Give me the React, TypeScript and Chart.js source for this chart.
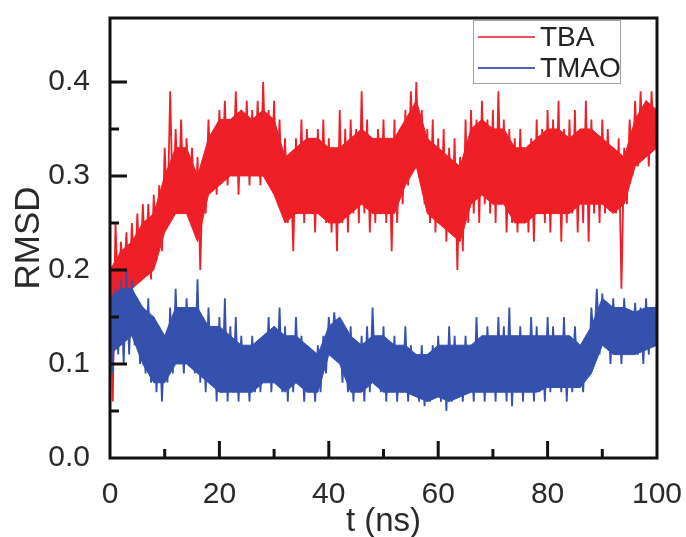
import React, { useEffect, useRef } from 'react';
import { Chart, registerables } from 'chart.js';

Chart.register(...registerables);

// RMSD traces.
// Excursions: upper value at each whole ns (0..100), lower value at each half ns (0.5..99.5)
const TBA_HIGH = [
  0.21, 0.25, 0.23, 0.24, 0.25, 0.26, 0.27, 0.27, 0.28, 0.29,
  0.33, 0.39, 0.35, 0.36, 0.34, 0.33, 0.32, 0.31, 0.36, 0.35,
  0.37, 0.38, 0.36, 0.39, 0.37, 0.38, 0.37, 0.38, 0.40, 0.37,
  0.38, 0.36, 0.34, 0.32, 0.34, 0.36, 0.35, 0.34, 0.35, 0.36,
  0.34, 0.33, 0.37, 0.35, 0.36, 0.35, 0.39, 0.36, 0.34, 0.35,
  0.36, 0.34, 0.36, 0.35, 0.37, 0.39, 0.40, 0.37, 0.35, 0.36,
  0.34, 0.35, 0.33, 0.34, 0.32, 0.36, 0.37, 0.36, 0.38, 0.36,
  0.37, 0.39, 0.36, 0.35, 0.34, 0.35, 0.33, 0.34, 0.36, 0.35,
  0.37, 0.36, 0.38, 0.35, 0.36, 0.37, 0.35, 0.38, 0.36, 0.34,
  0.36, 0.35, 0.33, 0.34, 0.33, 0.36, 0.38, 0.39, 0.38, 0.39,
  0.36,
];
const TBA_LOW = [
  0.06, 0.17, 0.18, 0.17, 0.19, 0.19, 0.20, 0.19, 0.21, 0.22,
  0.25, 0.26, 0.27, 0.26, 0.27, 0.24, 0.20, 0.26, 0.29, 0.28,
  0.30, 0.29, 0.30, 0.28, 0.30, 0.29, 0.31, 0.29, 0.30, 0.29,
  0.28, 0.26, 0.25, 0.22, 0.26, 0.25, 0.26, 0.24, 0.26, 0.25,
  0.24, 0.22, 0.25, 0.24, 0.26, 0.25, 0.26, 0.24, 0.25, 0.26,
  0.25, 0.22, 0.25, 0.27, 0.29, 0.31, 0.30, 0.27, 0.25, 0.24,
  0.25, 0.23, 0.24, 0.20, 0.22, 0.25, 0.26, 0.25, 0.27, 0.26,
  0.25, 0.27, 0.24, 0.25, 0.24, 0.26, 0.24, 0.23, 0.26, 0.25,
  0.24, 0.26, 0.23, 0.25, 0.26, 0.24, 0.25, 0.23, 0.26, 0.25,
  0.26, 0.27, 0.26, 0.18, 0.27, 0.30, 0.31, 0.32, 0.31, 0.33,
];
const TMAO_HIGH = [
  0.17, 0.18, 0.19, 0.20, 0.19, 0.17, 0.16, 0.17, 0.15, 0.14,
  0.13, 0.16, 0.18, 0.15, 0.17, 0.16, 0.19, 0.15, 0.16, 0.14,
  0.15, 0.17, 0.14, 0.15, 0.13, 0.12, 0.13, 0.12, 0.13, 0.15,
  0.14, 0.16, 0.14, 0.13, 0.15, 0.13, 0.12, 0.11, 0.12, 0.13,
  0.15, 0.155, 0.14, 0.13, 0.14, 0.12, 0.13, 0.14, 0.16, 0.13,
  0.14, 0.12, 0.13, 0.12, 0.14, 0.12, 0.11, 0.12, 0.11, 0.12,
  0.13, 0.12, 0.14, 0.13, 0.12, 0.13, 0.12, 0.15, 0.13, 0.14,
  0.13, 0.15, 0.14, 0.16, 0.13, 0.14, 0.13, 0.15, 0.14, 0.13,
  0.15, 0.14, 0.13, 0.15, 0.13, 0.14, 0.12, 0.13, 0.16, 0.18,
  0.175, 0.16, 0.17, 0.16, 0.17, 0.155, 0.165, 0.16, 0.17, 0.16,
  0.17,
];
const TMAO_LOW = [
  0.09, 0.11, 0.10, 0.11, 0.12, 0.10, 0.09, 0.08, 0.07, 0.06,
  0.08, 0.09, 0.10, 0.09, 0.10, 0.09, 0.08, 0.07, 0.09, 0.06,
  0.07, 0.06, 0.07, 0.06, 0.07, 0.06, 0.07, 0.07, 0.08, 0.07,
  0.08, 0.07, 0.06, 0.07, 0.08, 0.06, 0.07, 0.06, 0.07, 0.09,
  0.11, 0.12, 0.08, 0.07, 0.06, 0.07, 0.06, 0.07, 0.08, 0.07,
  0.06, 0.07, 0.06, 0.07, 0.06, 0.07, 0.06, 0.055, 0.06, 0.07,
  0.06, 0.05, 0.06, 0.07, 0.06, 0.07, 0.06, 0.07, 0.06, 0.07,
  0.06, 0.07, 0.06, 0.055, 0.07, 0.06, 0.07, 0.06, 0.07, 0.06,
  0.07, 0.08, 0.07, 0.06, 0.07, 0.08, 0.07, 0.09, 0.12, 0.11,
  0.12, 0.10, 0.11, 0.10, 0.11, 0.12, 0.11, 0.10, 0.11, 0.12,
];

// Dense core of each trace, every 2 ns (0..100)
const TBA_CORE_HIGH = [
  0.20, 0.22, 0.23, 0.25, 0.26, 0.30, 0.33, 0.33, 0.30, 0.34,
  0.36, 0.36, 0.37, 0.36, 0.37, 0.36, 0.32, 0.33, 0.34, 0.34,
  0.33, 0.33, 0.34, 0.35, 0.34, 0.34, 0.34, 0.36, 0.38, 0.34,
  0.33, 0.32, 0.31, 0.35, 0.36, 0.35, 0.35, 0.33, 0.33, 0.34,
  0.35, 0.35, 0.34, 0.35, 0.35, 0.34, 0.33, 0.32, 0.36, 0.38,
  0.37,
];
const TBA_CORE_LOW = [
  0.14, 0.17, 0.18, 0.19, 0.20, 0.24, 0.26, 0.26, 0.23, 0.28,
  0.29, 0.30, 0.30, 0.30, 0.30, 0.28, 0.25, 0.26, 0.26, 0.26,
  0.25, 0.25, 0.26, 0.27, 0.26, 0.26, 0.26, 0.29, 0.31, 0.26,
  0.25, 0.24, 0.23, 0.27, 0.28, 0.27, 0.27, 0.25, 0.25, 0.26,
  0.26, 0.26, 0.26, 0.27, 0.27, 0.27, 0.26, 0.27, 0.31, 0.32,
  0.33,
];
const TMAO_CORE_HIGH = [
  0.17, 0.18, 0.18, 0.16, 0.15, 0.13, 0.16, 0.16, 0.16, 0.14,
  0.14, 0.13, 0.12, 0.12, 0.13, 0.14, 0.13, 0.13, 0.12, 0.11,
  0.14, 0.15, 0.13, 0.12, 0.13, 0.13, 0.12, 0.12, 0.11, 0.11,
  0.12, 0.12, 0.12, 0.12, 0.13, 0.13, 0.13, 0.13, 0.13, 0.13,
  0.13, 0.13, 0.13, 0.12, 0.14, 0.17, 0.16, 0.16, 0.155, 0.16,
  0.16,
];
const TMAO_CORE_LOW = [
  0.11, 0.12, 0.13, 0.10, 0.08, 0.08, 0.10, 0.10, 0.09, 0.08,
  0.07, 0.07, 0.07, 0.07, 0.08, 0.08, 0.07, 0.08, 0.07, 0.07,
  0.11, 0.10, 0.07, 0.07, 0.08, 0.07, 0.07, 0.07, 0.065, 0.06,
  0.065, 0.06, 0.065, 0.07, 0.07, 0.07, 0.07, 0.07, 0.07, 0.07,
  0.075, 0.075, 0.075, 0.075, 0.09, 0.12, 0.11, 0.11, 0.11, 0.115,
  0.12,
];

const SERIES_NAMES = ['TBA', 'TMAO'];
const X_TICK_LABELS = ['0', '20', '40', '60', '80', '100'];
const Y_TICK_LABELS = ['0.0', '0.1', '0.2', '0.3', '0.4'];

const FONT = "'Liberation Sans', Arial, sans-serif";
const RED = '#ee1f26';
const BLUE = '#3550ad';

function buildTrace(high: number[], low: number[]) {
  const pts: { x: number; y: number }[] = [];
  for (let i = 0; i < high.length; i++) {
    pts.push({ x: i, y: high[i] });
    if (i < low.length) pts.push({ x: i + 0.5, y: low[i] });
  }
  return pts;
}

function buildCore(values: number[]) {
  return values.map((v, i) => ({ x: i * 2, y: v }));
}

const frameAndTicks = {
  id: 'frameAndTicks',
  afterDraw(chart: any) {
    const { ctx, chartArea } = chart;
    const xs = chart.scales.x;
    const ys = chart.scales.y;
    const { left, right, top, bottom } = chartArea;
    ctx.save();
    ctx.strokeStyle = '#111';
    ctx.lineWidth = 3;
    ctx.beginPath();
    xs.ticks.forEach((t: any) => {
      const v = t.value;
      if (v <= 0 || v >= 100) return;
      const major = Math.abs(v / 20 - Math.round(v / 20)) < 1e-6;
      const px = xs.getPixelForValue(v);
      ctx.moveTo(px, bottom);
      ctx.lineTo(px, bottom - (major ? 17 : 9));
    });
    ys.ticks.forEach((t: any) => {
      const v = t.value;
      if (Math.abs(v / 0.05 - Math.round(v / 0.05)) > 1e-6) return;
      if (v <= 0) return;
      const major = Math.abs(v / 0.1 - Math.round(v / 0.1)) < 1e-6;
      const py = ys.getPixelForValue(v);
      ctx.moveTo(left, py);
      ctx.lineTo(left + (major ? 17 : 9), py);
    });
    ctx.stroke();
    ctx.strokeRect(left, top, right - left, bottom - top);

    // legend box
    const bx = 473, by = 20, bw = 147, bh = 63;
    ctx.fillStyle = '#ffffff';
    ctx.fillRect(bx, by, bw, bh);
    ctx.lineWidth = 1;
    ctx.strokeStyle = '#a0a0a0';
    ctx.strokeRect(bx + 0.5, by + 0.5, bw, bh);
    const rows = [
      { y: 37, color: '#e5505a', label: SERIES_NAMES[0] },
      { y: 68, color: '#5560b5', label: SERIES_NAMES[1] },
    ];
    ctx.font = `28px ${FONT}`;
    ctx.textBaseline = 'middle';
    ctx.textAlign = 'left';
    rows.forEach((r) => {
      ctx.strokeStyle = r.color;
      ctx.lineWidth = 2;
      ctx.beginPath();
      ctx.moveTo(478, r.y);
      ctx.lineTo(535, r.y);
      ctx.stroke();
      ctx.fillStyle = '#222';
      ctx.fillText(r.label, 540, r.y + 1);
    });
    ctx.restore();
  },
};

export default function App() {
  const ref = useRef<HTMLCanvasElement | null>(null);
  useEffect(() => {
    document.body.style.margin = '0';
    if (!ref.current) return;
    const common = { pointRadius: 0, tension: 0 };
    const chart = new Chart(ref.current, {
      type: 'line',
      data: {
        datasets: [
          {
            ...common,
            label: SERIES_NAMES[0] + ' core',
            data: buildCore(TBA_CORE_HIGH),
            borderColor: RED,
            borderWidth: 1,
            backgroundColor: RED,
            fill: '+1',
            order: 6,
          },
          {
            ...common,
            label: SERIES_NAMES[0] + ' core low',
            data: buildCore(TBA_CORE_LOW),
            borderColor: RED,
            borderWidth: 1,
            fill: false,
            order: 5,
          },
          {
            ...common,
            label: SERIES_NAMES[0],
            data: buildTrace(TBA_HIGH, TBA_LOW),
            borderColor: RED,
            borderWidth: 1.8,
            fill: false,
            order: 4,
          },
          {
            ...common,
            label: SERIES_NAMES[1] + ' core',
            data: buildCore(TMAO_CORE_HIGH),
            borderColor: BLUE,
            borderWidth: 1,
            backgroundColor: BLUE,
            fill: '+1',
            order: 3,
          },
          {
            ...common,
            label: SERIES_NAMES[1] + ' core low',
            data: buildCore(TMAO_CORE_LOW),
            borderColor: BLUE,
            borderWidth: 1,
            fill: false,
            order: 2,
          },
          {
            ...common,
            label: SERIES_NAMES[1],
            data: buildTrace(TMAO_HIGH, TMAO_LOW),
            borderColor: BLUE,
            borderWidth: 1.8,
            fill: false,
            order: 1,
          },
        ],
      },
      options: {
        animation: false,
        responsive: false,
        devicePixelRatio: 1,
        layout: { padding: { left: 0, right: 29, top: 18, bottom: 0 } },
        plugins: {
          legend: { display: false },
          tooltip: { enabled: false },
          filler: { propagate: false },
        },
        scales: {
          x: {
            type: 'linear',
            min: 0,
            max: 100,
            grid: { display: false, drawTicks: false },
            border: { display: false },
            ticks: {
              stepSize: 10,
              padding: 19,
              color: '#2a2a2a',
              font: { family: FONT, size: 30 },
              maxRotation: 0,
              autoSkip: false,
              callback: (v: any) => {
                const s = String(Math.round(Number(v)));
                return X_TICK_LABELS.includes(s) && Number(v) % 20 === 0 ? s : '';
              },
            },
            title: {
              display: true,
              text: 't (ns)',
              color: '#2a2a2a',
              font: { family: FONT, size: 33 },
              padding: { top: 0, bottom: -5 },
            },
            afterFit: (s: any) => {
              s.height = 79;
              s.paddingLeft = 0;
              s.paddingRight = 0;
            },
          },
          y: {
            type: 'linear',
            min: 0,
            max: 0.468,
            grid: { display: false, drawTicks: false },
            border: { display: false },
            ticks: {
              stepSize: 0.05,
              padding: 20,
              color: '#2a2a2a',
              font: { family: FONT, size: 30 },
              autoSkip: false,
              callback: (v: any) => {
                const n = Number(v);
                if (Math.abs(n * 10 - Math.round(n * 10)) > 1e-6) return '';
                const s = n.toFixed(1);
                return Y_TICK_LABELS.includes(s) ? s : '';
              },
            },
            title: {
              display: true,
              text: 'RMSD',
              color: '#2a2a2a',
              font: { family: FONT, size: 35 },
              padding: { top: 8, bottom: 0 },
            },
            afterFit: (s: any) => {
              s.width = 110;
              s.paddingTop = 0;
              s.paddingBottom = 0;
            },
          },
        },
      },
      plugins: [frameAndTicks],
    } as any);
    return () => chart.destroy();
  }, []);
  return (
    <div style={{ width: 686, height: 537 }}>
      <canvas ref={ref} width={686} height={537} style={{ display: 'block' }} />
    </div>
  );
}
